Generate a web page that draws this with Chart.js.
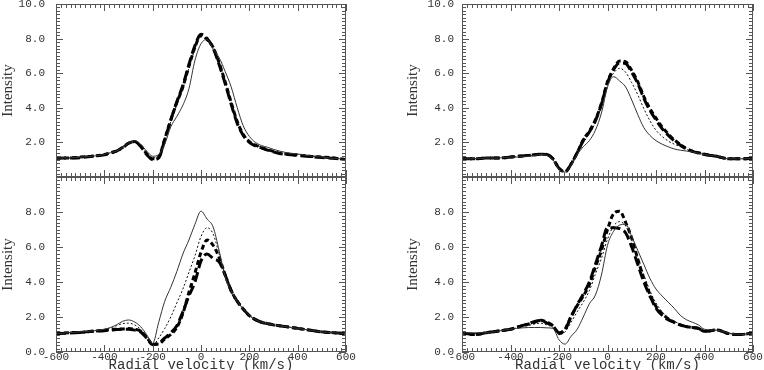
<!DOCTYPE html>
<html>
<head>
<meta charset="utf-8">
<script src="https://cdn.jsdelivr.net/npm/chart.js@4.4.1/dist/chart.umd.min.js"></script>
<style>
  html, body { margin: 0; padding: 0; background: #fff; overflow: hidden; width: 764px; height: 370px; }
  .panel { position: absolute; }
</style>
</head>
<body>
<div class="panel" id="boxA" style="left:0px;top:-20px;width:370px;height:200px"><canvas id="chartA"></canvas></div>
<div class="panel" id="boxB" style="left:0px;top:150px;width:370px;height:220px"><canvas id="chartB"></canvas></div>
<div class="panel" id="boxC" style="left:400px;top:-20px;width:380px;height:200px"><canvas id="chartC"></canvas></div>
<div class="panel" id="boxD" style="left:400px;top:150px;width:380px;height:220px"><canvas id="chartD"></canvas></div>
<script>
// Radial velocity grid (km/s), shared by all panels
const velocity = [-600,-550,-500,-450,-400,-375,-350,-325,-300,-275,-250,-225,-200,-175,-150,-125,-100,-75,-50,-25,
                  0,25,50,75,100,125,150,175,200,225,250,275,300,325,350,375,400,450,500,550,600];

// Top left panel
const solidA = [1.1,1.1,1.15,1.2,1.3,1.4,1.5,1.7,1.95,2.1,1.9,1.5,1.2,1.3,1.9,2.9,3.5,4.15,5.1,6.75,7.7,7.95,7.4,6.9,6.1,5.2,4.0,2.95,2.35,2.0,1.82,1.72,1.6,1.5,1.42,1.37,1.33,1.22,1.15,1.08,1.02];
const dotA   = [1.1,1.1,1.15,1.2,1.3,1.4,1.5,1.72,1.98,2.08,1.85,1.4,1.1,1.2,2.1,3.2,4.2,5.1,6.3,7.4,8.1,7.9,7.45,6.6,5.5,4.35,3.25,2.5,2.08,1.88,1.72,1.6,1.5,1.4,1.35,1.32,1.3,1.22,1.16,1.1,1.02];
const dashA  = [1.1,1.1,1.15,1.2,1.3,1.4,1.5,1.7,1.95,2.05,1.8,1.35,1.05,1.15,2.2,3.3,4.3,5.2,6.4,7.5,8.2,7.95,7.5,6.6,5.5,4.3,3.2,2.45,2.05,1.85,1.7,1.58,1.48,1.38,1.33,1.3,1.28,1.2,1.15,1.1,1.0];
const longA  = [1.08,1.1,1.12,1.2,1.28,1.38,1.5,1.68,1.95,2.05,1.78,1.3,1.0,1.1,2.15,3.3,4.35,5.3,6.5,7.6,8.25,8.0,7.45,6.5,5.4,4.2,3.1,2.4,2.0,1.8,1.68,1.55,1.45,1.36,1.32,1.28,1.25,1.18,1.12,1.08,1.0];

// Bottom left panel
const solidB = [1.05,1.1,1.15,1.2,1.3,1.4,1.55,1.75,1.83,1.72,1.45,1.0,0.5,1.7,2.9,3.7,4.6,5.6,6.4,7.3,8.05,7.6,7.15,5.8,4.3,3.5,2.9,2.45,2.1,1.85,1.7,1.62,1.55,1.5,1.45,1.4,1.35,1.25,1.15,1.1,1.05];
const dotB   = [1.05,1.1,1.15,1.2,1.28,1.38,1.5,1.62,1.65,1.55,1.3,0.85,0.38,0.8,1.35,2.0,2.8,3.6,4.55,5.5,6.6,7.1,6.75,5.6,4.4,3.5,2.9,2.45,2.08,1.85,1.7,1.62,1.55,1.5,1.45,1.4,1.35,1.25,1.15,1.1,1.05];
const dashB  = [1.05,1.1,1.12,1.18,1.25,1.28,1.3,1.32,1.35,1.3,1.2,0.85,0.45,0.45,0.75,1.0,1.4,2.2,3.4,4.5,5.7,6.4,6.1,5.4,4.4,3.5,2.9,2.45,2.08,1.85,1.7,1.62,1.55,1.5,1.45,1.4,1.35,1.25,1.15,1.1,1.05];
const longB  = [1.05,1.08,1.12,1.18,1.22,1.25,1.28,1.3,1.3,1.25,1.15,0.8,0.42,0.5,0.8,1.1,1.5,2.3,3.2,4.0,5.2,5.6,5.35,5.15,4.4,3.5,2.9,2.45,2.08,1.85,1.7,1.62,1.55,1.5,1.45,1.4,1.35,1.25,1.15,1.1,1.05];

// Top right panel
const solidC = [1.05,1.05,1.1,1.1,1.15,1.15,1.2,1.2,1.25,1.3,1.25,1.0,0.45,0.28,0.7,1.3,1.75,2.1,2.7,3.7,5.2,5.8,5.55,5.2,4.45,3.6,2.85,2.4,2.1,1.9,1.75,1.62,1.55,1.5,1.45,1.38,1.3,1.2,1.05,1.05,1.08];
const dotC   = [1.05,1.05,1.1,1.1,1.15,1.18,1.2,1.22,1.25,1.3,1.28,1.05,0.5,0.3,0.72,1.35,2.0,2.5,3.15,4.1,5.4,6.0,6.28,6.05,5.45,4.75,3.95,3.25,2.7,2.35,2.08,1.9,1.75,1.6,1.48,1.38,1.32,1.2,1.05,1.05,1.08];
const dashC  = [1.05,1.05,1.1,1.1,1.15,1.2,1.22,1.25,1.28,1.32,1.3,1.05,0.5,0.3,0.75,1.4,2.15,2.65,3.3,4.25,5.5,6.25,6.7,6.65,6.15,5.5,4.65,3.95,3.4,2.9,2.5,2.15,1.88,1.65,1.5,1.4,1.32,1.2,1.05,1.05,1.08];
const longC  = [1.05,1.05,1.1,1.1,1.15,1.18,1.22,1.25,1.28,1.32,1.3,1.05,0.5,0.3,0.75,1.4,2.1,2.6,3.25,4.2,5.45,6.2,6.6,6.55,6.05,5.4,4.55,3.85,3.3,2.8,2.42,2.1,1.85,1.62,1.48,1.38,1.3,1.2,1.05,1.05,1.08];

// Bottom right panel
const solidD = [1.1,1.1,1.1,1.2,1.3,1.35,1.38,1.4,1.4,1.4,1.38,1.35,0.7,0.45,0.9,1.3,2.0,2.75,3.25,4.4,6.1,6.9,7.25,7.3,6.6,5.8,5.0,4.2,3.6,3.2,2.85,2.5,2.1,1.85,1.7,1.55,1.3,1.25,1.08,1.0,1.08];
const dotD   = [1.1,1.05,1.1,1.2,1.3,1.38,1.45,1.52,1.6,1.65,1.55,1.4,1.0,1.15,1.7,2.3,2.85,3.5,4.45,5.35,6.45,7.2,7.45,7.2,6.4,5.4,4.4,3.5,2.8,2.3,1.95,1.75,1.6,1.5,1.42,1.35,1.22,1.25,1.05,1.02,1.1];
const dashD  = [1.1,1.0,1.1,1.2,1.3,1.4,1.5,1.6,1.7,1.82,1.7,1.5,1.05,1.3,2.05,2.65,3.2,3.85,4.85,5.8,7.0,7.9,8.05,7.4,6.5,5.3,4.2,3.3,2.6,2.2,1.9,1.7,1.55,1.45,1.4,1.35,1.18,1.26,1.05,1.0,1.1];
const longD  = [1.1,1.0,1.1,1.2,1.3,1.4,1.52,1.62,1.75,1.8,1.65,1.5,1.1,1.3,2.0,2.7,3.3,4.0,5.0,6.05,7.1,7.1,7.05,6.8,6.0,5.0,4.0,3.2,2.5,2.1,1.85,1.7,1.55,1.45,1.4,1.35,1.18,1.26,1.05,1.0,1.1];

// Axis ticks
const xMin = -600, xMax = 600, xStep = 200, xMinor = 20;
const yMin = 0, yMax = 10, yStep = 2, yMinor = 0.2;

const monoFont = "'Liberation Mono', 'DejaVu Sans Mono', monospace";
const serifFont = "'Liberation Serif', 'DejaVu Serif', serif";

// Line styles for the four series: thin solid, thin dotted, thick dashed, thick long-dashed
function makeDatasets(solid, dot, dash, long) {
    const pts = arr => velocity.map((v, i) => ({ x: v, y: arr[i] }));
    const base = { pointRadius: 0, cubicInterpolationMode: 'monotone', fill: false };
    return [
        { ...base, label: 'solid', data: pts(solid), borderColor: '#333', borderWidth: 1 },
        { ...base, label: 'dotted', data: pts(dot), borderColor: '#111', borderWidth: 1, borderDash: [2, 2] },
        { ...base, label: 'dashed', data: pts(dash), borderColor: '#000', borderWidth: 3, borderDash: [5, 3] },
        { ...base, label: 'long dash', data: pts(long), borderColor: '#000', borderWidth: 3, borderDash: [10, 4] }
    ];
}

// Box with inward major/minor ticks on all four sides (IDL style)
const frameTicks = {
    id: 'frameTicks',
    afterDraw(chart) {
        const { ctx, chartArea: a, scales: { x, y } } = chart;
        ctx.save();
        ctx.strokeStyle = '#555';
        ctx.lineWidth = 1;
        ctx.strokeRect(Math.round(a.left) + 0.5, Math.round(a.top) + 0.5,
                       Math.round(a.width) - 1, Math.round(a.height) - 1);
        ctx.beginPath();
        for (let v = xMin; v <= xMax + 0.001; v += xMinor) {
            const px = Math.round(x.getPixelForValue(v)) + 0.5;
            const len = Math.abs(v % xStep) < 0.001 ? 7 : 4;
            ctx.moveTo(px, a.bottom); ctx.lineTo(px, a.bottom - len);
            ctx.moveTo(px, a.top); ctx.lineTo(px, a.top + len);
        }
        for (let i = 0; i <= Math.round((yMax - yMin) / yMinor); i++) {
            const v = yMin + i * yMinor;
            const py = Math.round(y.getPixelForValue(v)) + 0.5;
            const len = i % Math.round(yStep / yMinor) === 0 ? 7 : 4;
            ctx.moveTo(a.left, py); ctx.lineTo(a.left + len, py);
            ctx.moveTo(a.right, py); ctx.lineTo(a.right - len, py);
        }
        ctx.stroke();
        ctx.restore();
    }
};

function makeChart(id, datasets, opts) {
    const ctx = document.getElementById(id).getContext('2d');
    return new Chart(ctx, {
        type: 'line',
        data: { datasets: datasets },
        options: {
            responsive: true,
            maintainAspectRatio: false,
            animation: false,
            layout: { padding: opts.padding },
            plugins: { legend: { display: false }, tooltip: { enabled: false } },
            scales: {
                x: {
                    type: 'linear',
                    min: xMin,
                    max: xMax,
                    grid: { display: false, drawTicks: false },
                    border: { display: false },
                    ticks: {
                        display: opts.bottom,
                        stepSize: xStep,
                        padding: -2,
                        maxRotation: 0,
                        color: '#333',
                        font: { family: monoFont, size: 11 },
                        callback: v => String(v)
                    },
                    title: {
                        display: opts.bottom,
                        text: 'Radial velocity (km/s)',
                        color: '#333',
                        padding: { top: 0, bottom: -2 },
                        font: { family: monoFont, size: 14, lineHeight: 1 }
                    },
                    afterFit: s => {
                        s.height = opts.bottom ? 18 : 0;
                        s.paddingLeft = 0;
                        s.paddingRight = 0;
                    }
                },
                y: {
                    min: yMin,
                    max: yMax,
                    grid: { display: false, drawTicks: false },
                    border: { display: false },
                    ticks: {
                        stepSize: yStep,
                        padding: opts.labelGap,
                        color: '#333',
                        font: { family: monoFont, size: 11 },
                        callback: v => {
                            if (opts.bottom && v === yMax) return '';
                            if (!opts.bottom && v === yMin) return '';
                            return v.toFixed(1);
                        }
                    },
                    title: {
                        display: true,
                        text: 'Intensity',
                        color: '#333',
                        padding: opts.titlePad,
                        font: { family: serifFont, size: 15, lineHeight: 1 }
                    },
                    afterFit: s => {
                        s.width = opts.yWidth;
                        s.paddingTop = 0;
                        s.paddingBottom = 0;
                    }
                }
            }
        },
        plugins: [frameTicks]
    });
}

document.addEventListener('DOMContentLoaded', () => {
    makeChart('chartA', makeDatasets(solidA, dotA, dashA, longA),
        { bottom: false, padding: { top: 24, bottom: 3, left: 0, right: 24 }, yWidth: 56, labelGap: 11, titlePad: 1 });
    makeChart('chartB', makeDatasets(solidB, dotB, dashB, longB),
        { bottom: true, padding: { top: 27, bottom: 0, left: 0, right: 24 }, yWidth: 56, labelGap: 11, titlePad: 1 });
    makeChart('chartC', makeDatasets(solidC, dotC, dashC, longC),
        { bottom: false, padding: { top: 24, bottom: 3, left: 0, right: 27 }, yWidth: 62, labelGap: 8, titlePad: 6 });
    makeChart('chartD', makeDatasets(solidD, dotD, dashD, longD),
        { bottom: true, padding: { top: 27, bottom: 0, left: 0, right: 27 }, yWidth: 62, labelGap: 8, titlePad: 6 });
});
</script>
</body>
</html>
